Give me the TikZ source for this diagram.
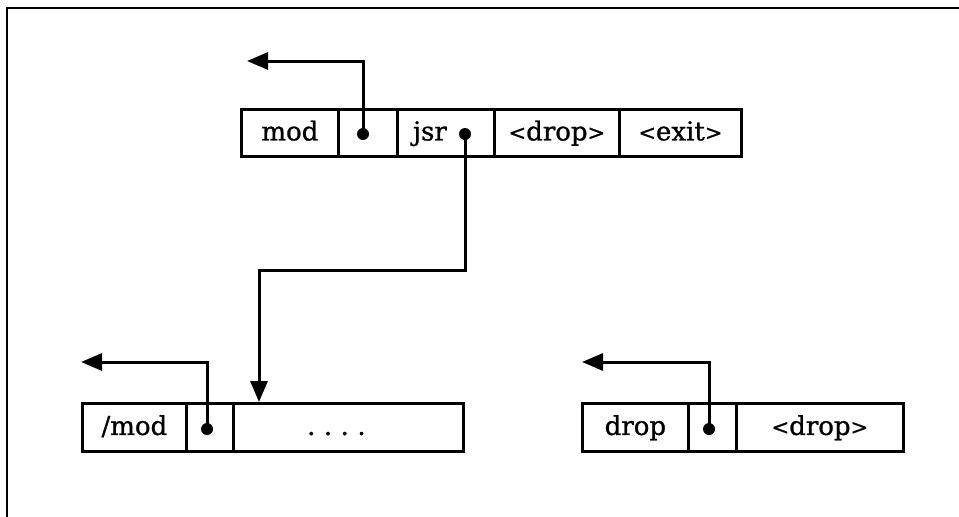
\documentclass[tikz,border=0pt]{standalone}
\usepackage{fontspec}
\setmainfont{DejaVu Serif}
\newfontfamily\cellfont{DejaVu Serif}[FakeBold=1.0]
\usetikzlibrary{arrows.meta}
% angle brackets around the call labels, set a little smaller than the words
\newcommand{\angL}{{\fontsize{21}{21}\selectfont\raisebox{0.5pt}{<}}}
\newcommand{\angR}{{\fontsize{21}{21}\selectfont\raisebox{0.5pt}{>}}}
\begin{document}
\begin{tikzpicture}[x=1pt,y=-1pt,
  cell/.style={draw, line width=2.8pt, inner sep=0pt, anchor=north west,
    text height=15pt, text depth=0pt,
    font=\cellfont\fontsize{26}{30}\selectfont},
  link/.style={line width=3pt, -{Triangle[length=21pt,width=17pt]}},
  pointer/.style={fill=black}
]
\useasboundingbox (0,0) rectangle (959,517);
% page frame: top and left rules only
\draw[line width=2pt] (7,517) -- (7,8) -- (959,8);

% top threaded list: mod | . | jsr . | <drop> | <exit>
\node[cell, minimum width=97pt, minimum height=47pt] (tmod) at (240,108) {mod};
\node[cell, minimum width=59pt, minimum height=47pt] (tptr) at (337,108) {};
\node[cell, minimum width=97pt, minimum height=47pt] (tjsr) at (396,108) {jsr\kern32pt};
\node[cell, minimum width=125pt, minimum height=47pt] (tdrop) at (493,108) {\angL drop\angR};
\node[cell, minimum width=122pt, minimum height=47pt] (texit) at (618,108) {\angL exit\angR};

% bottom left list: /mod | . | ....
\node[cell, minimum width=104pt, minimum height=48pt] (lmod) at (81,402) {/mod};
\node[cell, minimum width=47pt, minimum height=48pt] (lptr) at (185,402) {};
\node[cell, minimum width=230pt, minimum height=48pt] (lbody) at (232,402)
  {.\kern8.5pt.\kern8.5pt.\kern8.5pt.\kern24pt};

% bottom right list: drop | . | <drop>
\node[cell, minimum width=106pt, minimum height=48pt] (rdrop) at (581,402) {drop};
\node[cell, minimum width=48pt, minimum height=48pt] (rptr) at (687,402) {};
\node[cell, minimum width=167pt, minimum height=48pt] (rcall) at (735,402) {\angL drop\angR};

% pointer dots
\coordinate (d1) at (363,134);
\coordinate (d2) at (465,134);
\coordinate (d3) at (207,429);
\coordinate (d4) at (709,429);
\foreach \d in {d1,d2,d3,d4} \fill[pointer] (\d) circle (6pt);

% arrow ends
\coordinate (a1) at (247,61);
\coordinate (a3) at (81,362);
\coordinate (a4) at (582,362);
\coordinate (bend) at (465,270);
\coordinate (entry) at (259,402);

\draw[link] (d1) |- (a1);
\draw[link] (d2) -- (bend) -| (entry);
\draw[link] (d3) |- (a3);
\draw[link] (d4) |- (a4);
\end{tikzpicture}
\end{document}
